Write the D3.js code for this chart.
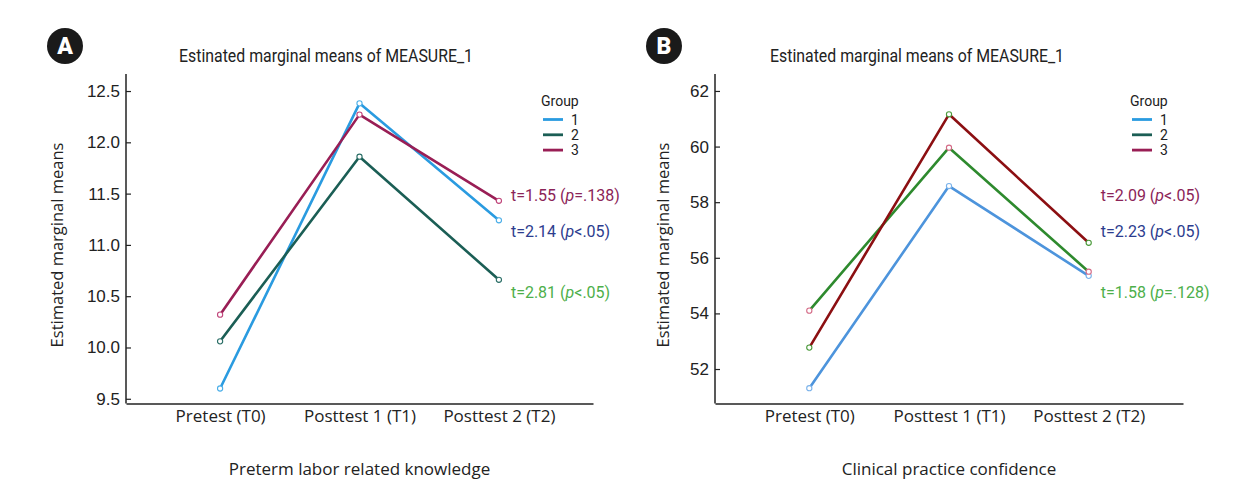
<!DOCTYPE html>
<html>
<head>
<meta charset="utf-8">
<script src="https://cdn.jsdelivr.net/npm/d3@7"></script>
<style>
  html, body { margin: 0; padding: 0; background: #fff; }
  svg { display: block; }
</style>
</head>
<body>
<svg id="chart" width="1250" height="484"></svg>
<script>
// ---------- data ----------
const timepoints = ["Pretest (T0)", "Posttest 1 (T1)", "Posttest 2 (T2)"];
const groups = ["1", "2", "3"];

// Panel A: Preterm labor related knowledge
const knowledgeG1 = [9.60, 12.38, 11.24];
const knowledgeG2 = [10.06, 11.86, 10.66];
const knowledgeG3 = [10.32, 12.27, 11.43];
const knowledgeTicks = [9.5, 10.0, 10.5, 11.0, 11.5, 12.0, 12.5];
const knowledgeStats = ["t=1.55 (|p|=.138)", "t=2.14 (|p|<.05)", "t=2.81 (|p|<.05)"];

// Panel B: Clinical practice confidence
const confidenceG1 = [51.31, 58.58, 55.35];
const confidenceG2 = [54.10, 59.96, 55.50];
const confidenceG3 = [52.77, 61.16, 56.54];
const confidenceTicks = [52, 54, 56, 58, 60, 62];
const confidenceStats = ["t=2.09 (|p|<.05)", "t=2.23 (|p|<.05)", "t=1.58 (|p|=.128)"];

const chartTitle = "Estinated marginal means of MEASURE_1";
const yTitle = "Estimated marginal means";

// ---------- styles ----------
const legendColors = ["#2a9be0", "#1b5e55", "#991e55"];
const statColors = ["#8b2458", "#2c3c8e", "#4daf4a"];

const panels = [
  {
    letter: "A",
    badge: [65, 46],
    x0: 126, x1: 593,
    yDomain: [9.454, 12.666],
    ticks: knowledgeTicks,
    fmt: d3.format(".1f"),
    series: [knowledgeG1, knowledgeG2, knowledgeG3],
    lineColors: ["#2a9be0", "#1b5e55", "#991e55"],
    markerColors: ["#4aaee8", "#2a6e66", "#c0457a"],
    stats: knowledgeStats,
    statY: [195, 231, 292],
    yTitleX: 57,
    titleX: 326,
    xTitle: "Preterm labor related knowledge"
  },
  {
    letter: "B",
    badge: [664, 46],
    x0: 715, x1: 1183,
    yDomain: [50.76, 62.61],
    ticks: confidenceTicks,
    fmt: d3.format("d"),
    series: [confidenceG1, confidenceG2, confidenceG3],
    lineColors: ["#4d94dc", "#2e8a2e", "#8c0f12"],
    markerColors: ["#7ab2ea", "#d46a86", "#4a9a3a"],
    stats: confidenceStats,
    statY: [195, 231, 292],
    yTitleX: 663,
    titleX: 917,
    xTitle: "Clinical practice confidence"
  }
];

const svg = d3.select("#chart");
const yTop = 74, yBottom = 403.5;

panels.forEach(p => {
  const g = svg.append("g");

  const x = d3.scalePoint().domain(timepoints).range([p.x0, p.x1]).padding(0.675);
  const y = d3.scaleLinear().domain(p.yDomain).range([yBottom, yTop]);

  // badge
  g.append("circle").attr("cx", p.badge[0]).attr("cy", p.badge[1]).attr("r", 18).attr("fill", "#1a1a1a");
  g.append("text").attr("x", p.badge[0]).attr("y", p.badge[1] + 8)
    .attr("text-anchor", "middle").attr("fill", "#fff")
    .attr("font-family", "Roboto, 'DejaVu Sans', sans-serif").attr("font-weight", 900)
    .attr("font-size", 23).text(p.letter);

  // title (condensed look)
  g.append("text").attr("x", p.titleX - 147).attr("y", 62)
    .attr("fill", "#222")
    .attr("font-family", "Roboto, sans-serif").attr("font-size", 17.5)
    .attr("textLength", 294).attr("lengthAdjust", "spacingAndGlyphs")
    .text(chartTitle);

  // y axis
  const yAxis = d3.axisLeft(y).tickValues(p.ticks).tickFormat(p.fmt)
    .tickSizeInner(-5).tickSizeOuter(0).tickPadding(6);
  const ya = g.append("g").attr("transform", `translate(${p.x0},0)`).call(yAxis);
  ya.select(".domain").remove();
  ya.selectAll(".tick line").attr("stroke", "#222").attr("stroke-width", 1.2);
  ya.selectAll(".tick text").attr("fill", "#222")
    .attr("font-family", "'Liberation Sans', Arial, sans-serif").attr("font-size", 17);
  g.append("line").attr("x1", p.x0).attr("x2", p.x0).attr("y1", yTop).attr("y2", yBottom)
    .attr("stroke", "#222").attr("stroke-width", 1.5);

  // x axis
  const xAxis = d3.axisBottom(x).tickSize(0).tickPadding(6);
  const xa = g.append("g").attr("transform", `translate(0,${yBottom})`).call(xAxis);
  xa.select(".domain").attr("stroke", "#222").attr("stroke-width", 1.5);
  xa.selectAll(".tick text").attr("fill", "#222")
    .attr("font-family", "'Open Sans', sans-serif").attr("font-size", 17);

  // axis titles
  g.append("text").attr("transform", `translate(${p.yTitleX},245) rotate(-90)`)
    .attr("text-anchor", "middle").attr("dy", "0.35em").attr("fill", "#222")
    .attr("font-family", "'Open Sans', sans-serif").attr("font-size", 16.5)
    .text(yTitle);
  g.append("text").attr("x", (p.x0 + p.x1) / 2).attr("y", 475)
    .attr("text-anchor", "middle").attr("fill", "#222")
    .attr("font-family", "'Open Sans', sans-serif").attr("font-size", 17)
    .text(p.xTitle);

  // lines
  const line = d3.line().x((d, i) => x(timepoints[i])).y(d => y(d));
  p.series.forEach((s, gi) => {
    g.append("path").datum(s).attr("d", line)
      .attr("fill", "none").attr("stroke", p.lineColors[gi]).attr("stroke-width", 2.6)
      .attr("stroke-linejoin", "round");
  });
  p.series.forEach((s, gi) => {
    g.selectAll(null).data(s).join("circle")
      .attr("cx", (d, i) => x(timepoints[i])).attr("cy", d => y(d)).attr("r", 2.6)
      .attr("fill", "#fff").attr("stroke", p.markerColors[gi]).attr("stroke-width", 1.1);
  });

  // legend
  const lx = p.x0 + 416;
  g.append("text").attr("x", lx - 1).attr("y", 106).attr("fill", "#222")
    .attr("font-family", "Roboto, sans-serif").attr("font-size", 14).text("Group");
  groups.forEach((gr, i) => {
    const ly = 119.5 + i * 15.3;
    g.append("line").attr("x1", lx + 1).attr("x2", lx + 21).attr("y1", ly).attr("y2", ly)
      .attr("stroke", legendColors[i]).attr("stroke-width", 2.8);
    g.append("text").attr("x", lx + 33).attr("y", ly + 5).attr("text-anchor", "middle")
      .attr("fill", "#222").attr("font-family", "Roboto, sans-serif").attr("font-size", 14).text(gr);
  });

  // stats annotations
  const sx = x(timepoints[2]) + 12;
  p.stats.forEach((st, i) => {
    const t = g.append("text").attr("x", sx).attr("y", p.statY[i]).attr("dy", "0.35em")
      .attr("fill", statColors[i]).attr("font-family", "Roboto, sans-serif").attr("font-size", 16);
    st.split("|").forEach((part, k) => {
      t.append("tspan").attr("font-style", k === 1 ? "italic" : "normal").text(part);
    });
  });
});
</script>
</body>
</html>
